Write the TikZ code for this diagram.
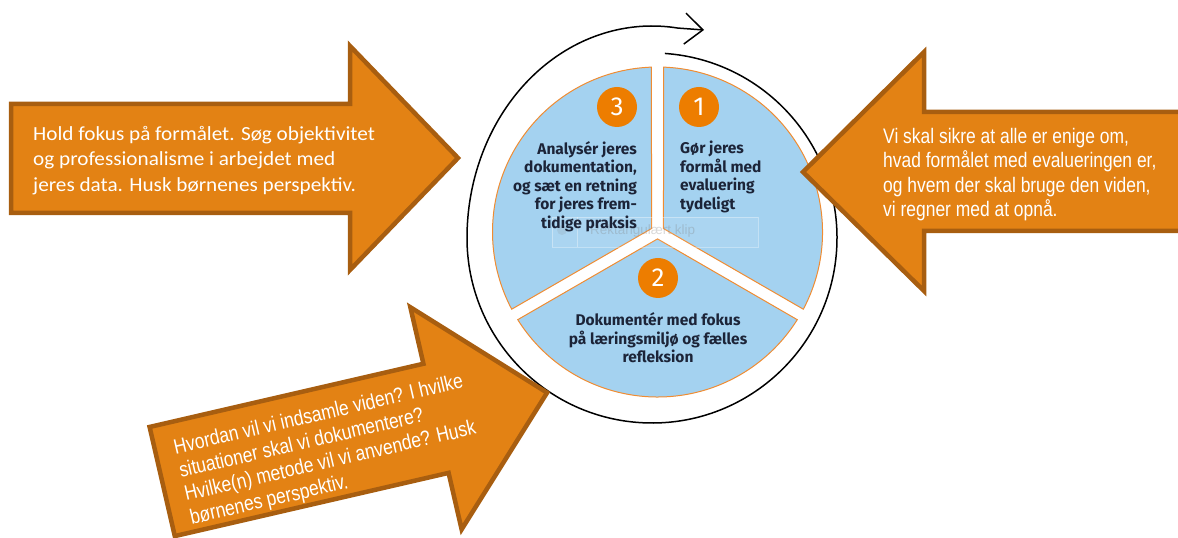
\documentclass[tikz,border=0pt]{standalone}
\usepackage{fontspec}
\usepackage{tikz}
\usetikzlibrary{arrows.meta,calc}
\newfontfamily\calibrifont[FakeStretch=1.06]{Carlito}
\newfontfamily\arialfont[FakeStretch=0.83]{Liberation Sans}
\newfontfamily\uifont{Liberation Sans}
\newfontfamily\piefont{Fira Sans}

\definecolor{arroworange}{RGB}{227,130,20}
\definecolor{arrowbrown}{RGB}{168,94,16}
\definecolor{pieblue}{RGB}{164,210,240}
\definecolor{pieedge}{RGB}{240,140,50}
\definecolor{numorange}{RGB}{237,125,0}
\definecolor{pietext}{RGB}{28,36,56}

\tikzstyle{bigarrow} = [fill=arroworange, draw=arrowbrown, line width=4.5pt, line join=miter]
\tikzstyle{piepart} = [fill=pieblue, draw=pieedge, line width=1pt]
\tikzstyle{stepnum} = [circle, fill=numorange, text=white, minimum size=40pt,
    inner sep=0pt, font=\piefont\fontsize{26}{26}\selectfont]
\tikzstyle{sectortext} = [text=pietext, inner sep=0pt,
    font=\piefont\bfseries\fontsize{15.5}{18.5}\selectfont]
\tikzstyle{arrowtext} = [text=white, inner sep=0pt, align=left, anchor=north west]
\tikzstyle{ringline} = [draw=black, line width=1.5pt]

\begin{document}
\begin{tikzpicture}[x=1pt,y=1pt]
    \useasboundingbox (0,0) rectangle (1178,538);
    \clip (0,0) rectangle (1178,538);

    \coordinate (ring) at (652,300);
    \coordinate (pie) at (657.5,306);

    % ring with arrow
    \draw[ringline, -{Straight Barb[length=18pt,width=31pt]}]
        ($(ring)+(86:185)$) arc[start angle=86, end angle=-180, radius=185]
        arc[start angle=180, end angle=82, x radius=185, y radius=212] -- (704,508);

    % pie
    \foreach \a/\b in {-30/90, 90/210, 210/330} {
        \draw[piepart] ($(pie)+({(\a+\b)/2}:6.9)$) -- ($(pie)+(\a+2.1:165)$)
            arc[start angle=\a+2.1, end angle=\b-2.1, radius=165] -- cycle;
    }

    % screenshot overlay
    \draw[white, opacity=0.35, fill=white, fill opacity=0.08] (552,321) rectangle (758,291);
    \draw[white, opacity=0.35] (577,321) -- (577,291);
    \fill[gray, opacity=0.15] (562,308) circle (5);
    \node[anchor=base west, inner sep=0pt, text=gray, opacity=0.3,
        font=\uifont\fontsize{13.5}{13.5}\selectfont] (rektklip) at (590,303) {Rektangulært klip};

    % steps
    \node[stepnum] (num1) at (699,431) {1};
    \node[stepnum] (num2) at (658,260) {2};
    \node[stepnum] (num3) at (617,431) {3};

    \node[sectortext, anchor=north west, align=left] (formaal) at (680,397)
        {Gør jeres\\formål med\\evaluering\\tydeligt};
    \node[sectortext, below of=num2, node distance=60pt, align=center] (dokumenter)
        {Dokumentér med fokus\\på læringsmiljø og fælles\\refleksion};
    \node[sectortext, anchor=north east, align=right] (analyser) at (637,397)
        {Analysér jeres\\dokumentation,\\og sæt en retning\\for jeres frem-\\tidige praksis};

    % arrows
    \draw[bigarrow] (11,434) -- (350,434) -- (350,492) -- (458,380)
        -- (350,268) -- (350,325) -- (11,325) -- cycle;
    \node[arrowtext, font=\calibrifont\fontsize{20}{25.5}\selectfont] (holdfokus) at (33,412)
        {Hold fokus på formålet. Søg objektivitet\\og professionalisme i arbejdet med\\jeres data. Husk børnenes perspektiv.};

    \draw[bigarrow] (1195,426) -- (924,426) -- (924,486) -- (803,366)
        -- (924,247) -- (924,307) -- (1195,307) -- cycle;
    \node[arrowtext, font=\arialfont\fontsize{21}{24.5}\selectfont] (sikre) at (883,410)
        {Vi skal sikre at alle er enige om,\\hvad formålet med evalueringen er,\\og hvem der skal bruge den viden,\\vi regner med at opnå.};

    \begin{scope}[shift={(550,146)}, rotate=13]
        \draw[bigarrow] (-3,0) -- (-117,114) -- (-117,56) -- (-398,56)
            -- (-398,-56) -- (-117,-56) -- (-117,-114) -- cycle;
        \node[arrowtext, transform shape, font=\arialfont\fontsize{21}{24}\selectfont] (indsamle) at (-379,39)
            {Hvordan vil vi indsamle viden? I hvilke\\situationer skal vi dokumentere?\\Hvilke(n) metode vil vi anvende? Husk\\børnenes perspektiv.};
    \end{scope}
\end{tikzpicture}
\end{document}
